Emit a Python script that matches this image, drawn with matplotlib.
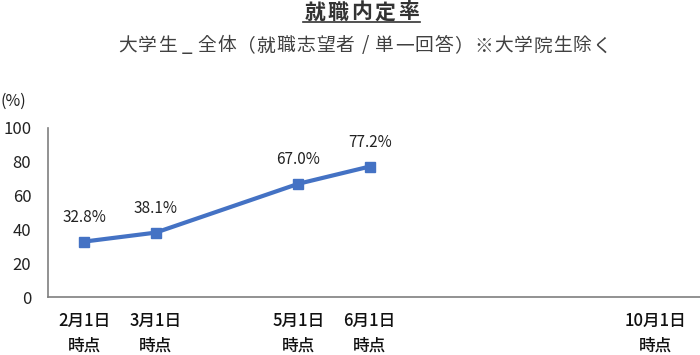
import matplotlib.pyplot as plt
from matplotlib.lines import Line2D

plt.rcParams['font.family'] = ['Noto Sans CJK JP', 'DejaVu Sans']

# months shown on the axis (2月..10月), one slot per month
slot_months = [2, 3, 4, 5, 6, 7, 8, 9, 10]
slot_labels = ['2月1日\n時点', '3月1日\n時点', '', '5月1日\n時点', '6月1日\n時点',
               '', '', '', '10月1日\n時点']

# surveyed points
data_months = [2, 3, 5, 6]
rates = [32.8, 38.1, 67.0, 77.2]
rate_labels = ['32.8%', '38.1%', '67.0%', '77.2%']

title = '就職内定率'
subtitle = '大学生_全体（就職志望者/単一回答）※大学院生除く'

blue = '#4472C4'
W, H = 700, 355


def spaced_text(fig, s, left_px, right_px, y_px, **kw):
    # draw a string with even letter spacing between left_px and right_px
    adv = (right_px - left_px) / len(s)
    for i, ch in enumerate(s):
        fig.text((left_px + adv * (i + 0.5)) / W, 1 - y_px / H, ch,
                 ha='center', va='center', **kw)


fig = plt.figure(figsize=(7, 3.55), dpi=100)
ax = fig.add_axes([48 / W, 58 / H, 652 / W, 169 / H])

x = [m - slot_months[0] for m in data_months]
ax.plot(x, rates, color=blue, linewidth=3, marker='s', markersize=7,
        solid_capstyle='round', zorder=3)
for xi, yi, lab in zip(x, rates, rate_labels):
    ax.annotate(lab, (xi, yi), xytext=(0, 17.5), textcoords='offset points',
                ha='center', va='center', fontsize=11, color='#222222')

ax.set_xlim(-0.51, 8.63)
ax.set_ylim(0, 100)
ax.set_yticks([0, 20, 40, 60, 80, 100])
ax.set_xticks(range(len(slot_months)))
ax.set_xticklabels(slot_labels, fontsize=12, fontweight='medium',
                   linespacing=1.43, color='#111111')
ax.tick_params(axis='y', length=0, labelsize=12, pad=12, labelcolor='#222222')
ax.tick_params(axis='x', length=0, pad=11)

for s in ['top', 'right']:
    ax.spines[s].set_visible(False)
for s in ['left', 'bottom']:
    ax.spines[s].set_color('#7f7f7f')
    ax.spines[s].set_linewidth(1.2)

fig.text(1 / W, 1 - 101 / H, '(%)', fontsize=11.5, ha='left', va='center',
         color='#222222')

spaced_text(fig, title, 303, 420, 12, fontsize=15, fontweight='bold',
            color='#333333')
fig.add_artist(Line2D([303 / W, 420 / W], [1 - 22 / H, 1 - 22 / H],
                      transform=fig.transFigure, color='#333333', linewidth=1.2))
spaced_text(fig, subtitle, 118, 612, 46, fontsize=13.5, color='#404040')

fig.savefig('out.png', dpi=100)
